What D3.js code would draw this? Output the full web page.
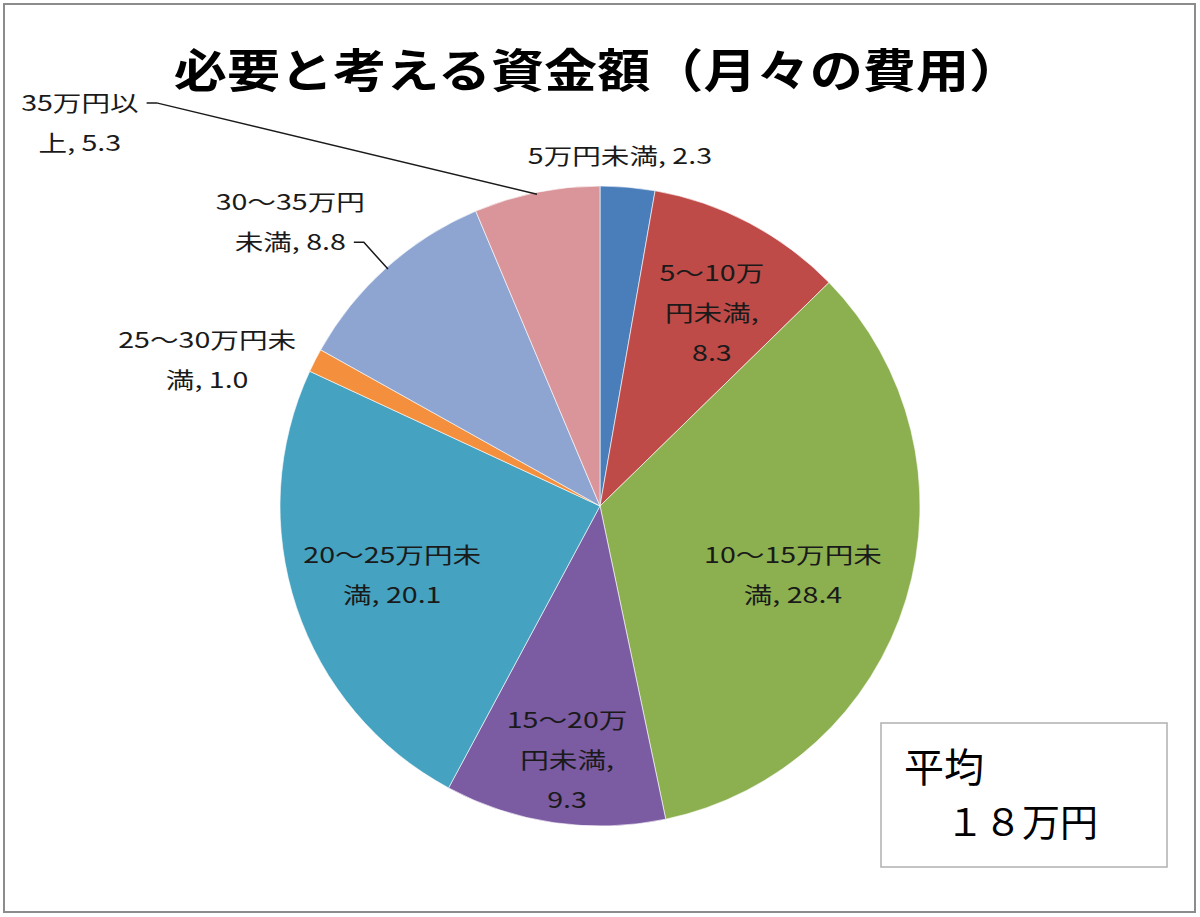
<!DOCTYPE html>
<html>
<head>
<meta charset="utf-8">
<script src="https://cdn.jsdelivr.net/npm/d3@7"></script>
<style>
  html, body { margin: 0; padding: 0; background: #fff; }
  svg { display: block; }
</style>
</head>
<body>
<div id="chart"></div>
<script>
// categories and values (%)
const categories = ['5万円未満', '5～10万円未満', '10～15万円未満', '15～20万円未満',
  '20～25万円未満', '25～30万円未満', '30～35万円未満', '35万円以上'];
const values = [2.3, 8.3, 28.4, 9.3, 20.1, 1.0, 8.8, 5.3];
// label text as it wraps in the chart
const labelLines = [
  ['5万円未満, 2.3'],
  ['5～10万', '円未満,', '8.3'],
  ['10～15万円未', '満, 28.4'],
  ['15～20万', '円未満,', '9.3'],
  ['20～25万円未', '満, 20.1'],
  ['25～30万円未', '満, 1.0'],
  ['30～35万円', '未満, 8.8'],
  ['35万円以', '上, 5.3']
];
const colors = ['#4a7ebb', '#be4b48', '#8cb050', '#7b5ba1', '#45a2c0', '#f38f3d', '#8ea5d2', '#d9959a'];

const title = '必要と考える資金額（月々の費用）';
const avgLabel = '平均';
const avgValue = '１８万円';

// label placement: [angle offset in degrees from slice middle, radius]
const labelPlace = [[-1.7, 350], [2.3, 223], [2.8, 205], [-0.8, 256],
  [0, 219], [-6.7, 419], [-5.7, 420], [-42.2, 646]];
// which slices get a leader line, and which text line it attaches to
const leaders = { 6: 1, 7: 0 };

const W = 1200, H = 917;
const cx = 600, cy = 506, radius = 320;
const lineH = 40;
const stretch = 1.3;

const svg = d3.select('#chart').append('svg')
  .attr('width', W).attr('height', H);

// outer frame
svg.append('rect')
  .attr('x', 4).attr('y', 4)
  .attr('width', 1191).attr('height', 908)
  .attr('fill', '#fff')
  .attr('stroke', '#8c8c8c')
  .attr('stroke-width', 2);

// title
svg.append('text')
  .attr('transform', 'translate(598,87) scale(1.155,1)')
  .attr('text-anchor', 'middle')
  .style('font-family', '"Noto Sans CJK JP", sans-serif')
  .style('font-weight', 700)
  .style('font-size', '46px')
  .attr('fill', '#000')
  .text(title);

const pie = d3.pie().sort(null).value((d) => d)
  .startAngle(0).endAngle(2 * Math.PI);
const arcs = pie(values);

const arc = d3.arc().innerRadius(0).outerRadius(radius);

const g = svg.append('g').attr('transform', 'translate(' + cx + ',' + cy + ')');

g.selectAll('path.slice')
  .data(arcs)
  .enter()
  .append('path')
  .attr('class', 'slice')
  .attr('d', arc)
  .attr('fill', (d, i) => colors[i])
  .attr('stroke', '#ffffff')
  .attr('stroke-opacity', 0.6)
  .attr('stroke-width', 1);

const toDeg = 180 / Math.PI;
function polar(angleRad, r) {
  return [r * Math.sin(angleRad), -r * Math.cos(angleRad)];
}

// labels
g.selectAll('g.label')
  .data(arcs)
  .enter()
  .append('g')
  .attr('class', 'label')
  .each(function (d, i) {
    const mid = (d.startAngle + d.endAngle) / 2 + labelPlace[i][0] / toDeg;
    const [x, y] = polar(mid, labelPlace[i][1]);
    const lines = labelLines[i];
    const y0 = y - (lines.length - 1) * lineH / 2;
    const sel = d3.select(this);
    lines.forEach((t, k) => {
      sel.append('text')
        .attr('transform', 'translate(' + x + ',' + (y0 + k * lineH) + ') scale(' + stretch + ',1)')
        .attr('text-anchor', 'middle')
        .attr('dy', '0.36em')
        .style('font-family', '"Noto Sans CJK JP", sans-serif')
        .style('font-size', '22px')
        .attr('fill', '#1a1a1a')
        .text(t);
    });
    d.labelPos = { x: x, y0: y0 };
  });

// leader lines
Object.keys(leaders).forEach((key) => {
  const i = +key;
  const d = arcs[i];
  const lineIdx = leaders[key];
  const textNode = g.selectAll('g.label').filter((e, j) => j === i)
    .selectAll('text').nodes()[lineIdx];
  const bb = textNode.getBBox();
  const halfW = bb.width * stretch / 2;
  const ly = d.labelPos.y0 + lineIdx * lineH;
  const lx = d.labelPos.x + halfW + 8;
  const mid = (d.startAngle + d.endAngle) / 2;
  const [ex, ey] = polar(mid, radius - 2);
  g.append('path')
    .attr('d', d3.line()([[lx, ly], [lx + 10, ly], [ex, ey]]))
    .attr('fill', 'none')
    .attr('stroke', '#1a1a1a')
    .attr('stroke-width', 1.5);
});

// average box
svg.append('rect')
  .attr('x', 881).attr('y', 723)
  .attr('width', 286).attr('height', 144)
  .attr('fill', '#fff')
  .attr('stroke', '#b0b0b0')
  .attr('stroke-width', 1.5);

svg.append('text')
  .attr('x', 904).attr('y', 782)
  .style('font-family', '"Noto Sans CJK JP", sans-serif')
  .style('font-size', '40px')
  .attr('fill', '#000')
  .text(avgLabel);

svg.append('text')
  .attr('x', 946).attr('y', 836)
  .style('font-family', '"Noto Sans CJK JP", sans-serif')
  .style('font-size', '38px')
  .attr('fill', '#000')
  .text(avgValue);
</script>
</body>
</html>
